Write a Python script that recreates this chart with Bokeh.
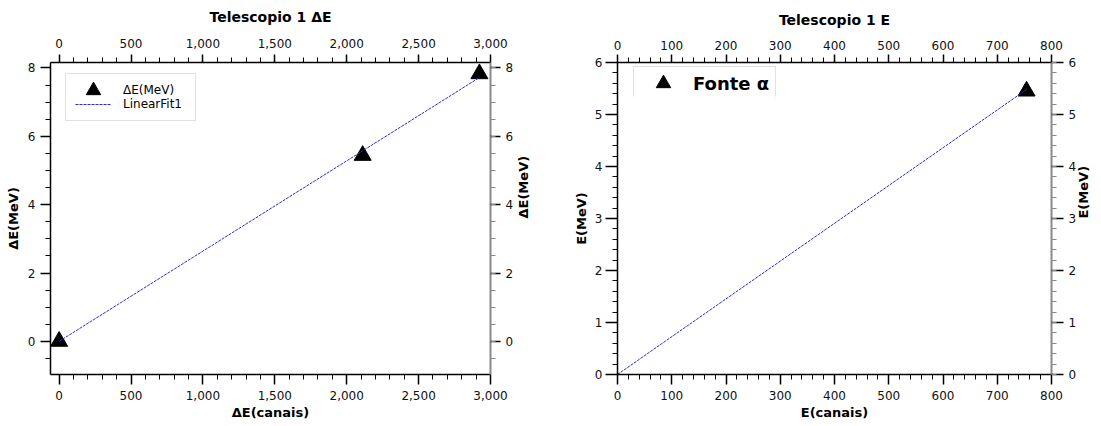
import math
from bokeh.plotting import figure
from bokeh.models import (Range1d, LinearAxis, SingleIntervalTicker, NumeralTickFormatter,
                          Legend, LegendItem, BoxAnnotation)
from bokeh.layouts import row
from bokeh.embed import file_html
from bokeh.resources import INLINE

FONT = "DejaVu Sans"

# ---- Telescopio 1 ΔE ----
de_canais = [0, 2111, 2923]
de_mev = [0.0, 5.44, 7.83]
de_fit_x = [0, 2923]
de_fit_y = [0.0, 7.72]

# ---- Telescopio 1 E ----
e_canais = [754]
e_mev = [5.45]
e_fit_x = [0, 754]
e_fit_y = [0.0, 5.48]

LINE_COLOR = "#2b2bd6"


def style_axis(ax, ticker, line_color, label="", label_standoff=5, fmt=None, tick=10, lstand=2):
    ax.ticker = ticker
    if fmt is not None:
        ax.formatter = fmt
    ax.axis_label = label
    ax.axis_label_text_font = FONT
    ax.axis_label_text_font_style = "bold"
    ax.axis_label_text_font_size = "13px"
    ax.axis_label_text_color = "black"
    ax.axis_label_standoff = label_standoff
    ax.major_label_text_font = FONT
    ax.major_label_text_font_size = "12px"
    ax.major_label_text_color = "#111111"
    ax.major_label_standoff = lstand
    ax.axis_line_color = line_color
    ax.axis_line_width = 1.5
    ax.major_tick_line_color = "black"
    ax.major_tick_line_width = 1.5
    ax.minor_tick_line_color = line_color
    ax.minor_tick_line_width = 1
    ax.major_tick_out = tick
    ax.major_tick_in = 0
    ax.minor_tick_out = 5
    ax.minor_tick_in = 0


def make_fig(width, borders, xr, yr, xtick, ytick, title, xlabel, ylabel, fmt,
             ystand, ytick_len, ylstand, rstand, rtick, top_stand, title_stand):
    bl, br, bt, bb = borders
    p = figure(width=width, height=426, output_backend="svg", toolbar_location=None,
               x_range=Range1d(*xr), y_range=Range1d(*yr),
               min_border_left=bl, min_border_right=br, min_border_top=bt, min_border_bottom=bb)
    p.xgrid.visible = False
    p.ygrid.visible = False
    p.outline_line_color = None
    p.background_fill_color = "white"
    p.border_fill_color = "white"
    p.title.text = title
    p.title.text_font = FONT
    p.title.text_font_size = "14px"
    p.title.text_font_style = "bold"
    p.title.text_color = "black"
    p.title.align = "center"
    p.title.vertical_align = "top"
    p.title.standoff = title_stand
    style_axis(p.xaxis[0], xtick, "black", xlabel, 2, fmt, 10, 6)
    style_axis(p.yaxis[0], ytick, "black", ylabel, ystand, None, ytick_len, ylstand)
    top = LinearAxis()
    style_axis(top, xtick, "black", "", 0, fmt, 8, top_stand)
    p.add_layout(top, "above")
    right = LinearAxis()
    style_axis(right, ytick, "#8a8a8a", ylabel, rstand, None, rtick, 5)
    right.axis_line_width = 2
    try:
        right.axis_label_orientation = math.pi / 2
    except Exception:
        pass
    p.add_layout(right, "right")
    return p


def legend(items, loc, gh, size, style="normal"):
    return Legend(items=items, location=loc, glyph_width=36, glyph_height=gh,
                  padding=0, spacing=0, label_standoff=12, label_height=12,
                  label_text_font=FONT, label_text_font_size=size,
                  label_text_font_style=style, label_text_color="black",
                  border_line_alpha=0, background_fill_alpha=0)


fmt1 = NumeralTickFormatter(format="0,0")
p1 = make_fig(550, (50, 60, 62, 52), (-60, 3000), (-0.97, 8.16),
              SingleIntervalTicker(interval=500, num_minor_ticks=5),
              SingleIntervalTicker(interval=2, num_minor_ticks=4),
              "Telescopio 1 ΔE", "ΔE(canais)", "ΔE(MeV)", fmt1, 4, 10, 5, 7, 10, 7, 17)
s1 = p1.scatter(de_canais, de_mev, marker="triangle", size=17, color="black")
l1 = p1.line(de_fit_x, de_fit_y, line_color=LINE_COLOR, line_dash="3 1", line_width=1)
p1.add_layout(BoxAnnotation(left=15, right=145, top=301, bottom=254,
                            left_units="screen", right_units="screen",
                            top_units="screen", bottom_units="screen",
                            fill_alpha=0, line_color="#9a9a9a", line_width=1))
p1.add_layout(legend([LegendItem(label="ΔE(MeV)", renderers=[s1])], (25, 266), 36, "12px"))
p1.add_layout(legend([LegendItem(label="LinearFit1", renderers=[l1])], (25, 263), 12, "12px"))

fmt2 = NumeralTickFormatter(format="0")
p2 = make_fig(551, (67, 44, 58, 52), (0, 800), (0, 6),
              SingleIntervalTicker(interval=100, num_minor_ticks=5),
              SingleIntervalTicker(interval=1, num_minor_ticks=5),
              "Telescopio 1 E", "E(canais)", "E(MeV)", fmt2, 3, 12, 3, 4, 12, 5, 15)
s2 = p2.scatter(e_canais, e_mev, marker="triangle", size=17, color="black")
l2 = p2.line(e_fit_x, e_fit_y, line_color=LINE_COLOR, line_dash="3 1", line_width=1)
p2.add_layout(BoxAnnotation(left=16, right=158, top=308, bottom=276,
                            left_units="screen", right_units="screen",
                            top_units="screen", bottom_units="screen",
                            fill_alpha=0, line_color="#9a9a9a", line_width=1))
p2.add_layout(BoxAnnotation(left=14, right=160, top=278, bottom=272,
                            left_units="screen", right_units="screen",
                            top_units="screen", bottom_units="screen",
                            fill_color="white", fill_alpha=1, line_alpha=0))
p2.add_layout(legend([LegendItem(label="Fonte α", renderers=[s2])], (28, 273), 36, "18px", "bold"))

layout = row(p1, p2)
open("out.html", "w").write(file_html(layout, INLINE))
